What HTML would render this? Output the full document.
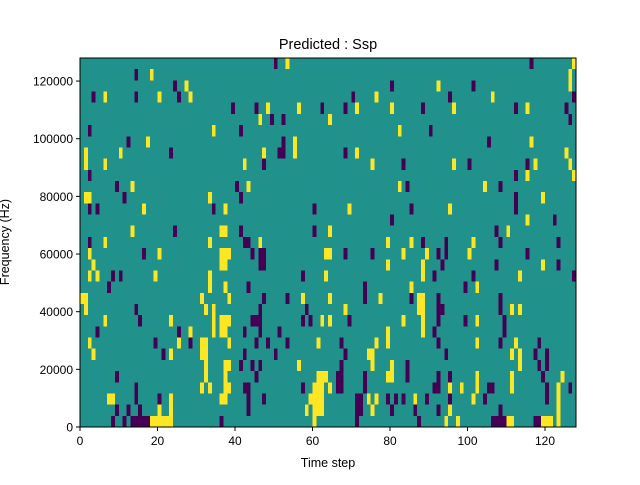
<!DOCTYPE html>
<html><head><meta charset="utf-8"><style>
body{margin:0;background:#fff;}
svg text{font-family:"Liberation Sans",sans-serif;fill:#000;}
</style></head><body>
<svg id="chart" width="640" height="480" xmlns="http://www.w3.org/2000/svg">
<rect x="0" y="0" width="640" height="480" fill="#fff"/>
<text x="328" y="49" font-size="14.5" text-anchor="middle">Predicted : Ssp</text>
<text x="328" y="467" font-size="12.5" text-anchor="middle">Time step</text>
<text transform="translate(9,242) rotate(-90)" font-size="12.5" text-anchor="middle">Frequency (Hz)</text>
<g id="plot"></g>
<g id="axes"></g>
</svg>
<script>
const nCols = 128;
const nRows = 33;
const freqMax = 128000;
const xTicks = [0,20,40,60,80,100,120];
const yTicks = [0,20000,40000,60000,80000,100000,120000];
const yTickLabels = ["0","20000","40000","60000","80000","100000","120000"];
// runs: [rowFromTop, colStart, colEnd, value]  value: -1 purple, 1 yellow
const purpleRuns = [
[0,50,50],[0,116,116],[1,14,14],[2,24,24],[2,80,80],[2,101,101],[3,3,3],[3,14,14],[3,25,25],[3,70,70],[3,95,95],[3,127,127],
[4,39,39],[4,45,45],[4,62,62],[4,62,62],[4,68,68],[4,88,88],[4,112,112],[4,125,125],[5,49,49],[5,52,52],[5,126,126],
[6,2,2],[6,41,41],[6,90,90],[7,12,12],[7,52,52],[7,105,105],[8,23,23],[8,51,52],[8,68,68],[9,47,47],[9,83,83],[9,100,100],[9,115,115],
[10,2,2],[10,112,112],[11,9,9],[11,40,40],[11,84,84],[11,108,108],[12,11,11],[12,41,41],[12,112,112],[13,2,2],[13,4,4],[13,34,34],[13,60,60],[13,85,85],[13,112,112],
[14,80,80],[14,122,122],[15,24,24],[15,41,41],[15,60,60],[15,107,107],[16,2,2],[16,42,43],[16,88,88],[16,94,94],[16,108,108],[16,123,123],
[17,16,16],[17,44,44],[17,46,47],[17,68,68],[17,75,75],[17,92,92],[17,94,94],[17,115,115],[18,46,47],[18,93,93],[18,107,107],[18,123,123],
[19,8,8],[19,10,10],[19,57,57],[19,91,91],[19,101,101],[19,127,127],[20,7,7],[20,43,43],[20,73,73],[20,99,99],
[21,47,47],[21,53,53],[21,73,73],[21,85,85],[21,92,92],[21,108,108],[22,14,14],[22,46,46],[22,58,58],[22,92,93],[22,108,108],
[23,15,15],[23,44,46],[23,57,57],[23,59,59],[23,69,69],[23,92,92],[23,99,99],[23,109,109],[24,4,4],[24,25,25],[24,42,42],[24,46,46],[24,51,51],[24,91,91],[24,109,109],
[25,19,19],[25,28,28],[25,45,45],[25,48,48],[25,53,53],[25,67,67],[25,92,92],[25,108,108],[25,118,118],[26,21,21],[26,42,42],[26,50,50],[26,68,68],[26,94,94],[26,117,117],[26,120,120],
[27,41,41],[27,44,44],[27,46,46],[27,67,67],[27,84,84],[27,118,118],[27,120,120],[28,9,9],[28,45,45],[28,66,67],[28,73,73],[28,84,84],[28,92,92],[28,95,95],[28,119,119],
[29,14,14],[29,42,43],[29,57,57],[29,66,67],[29,73,73],[29,91,92],[29,105,106],[29,120,120],[29,126,126],
[30,14,14],[30,20,20],[30,43,43],[30,47,47],[30,71,72],[30,79,79],[30,81,81],[30,83,83],[30,89,89],[30,95,95],[30,104,104],[30,120,120],
[31,9,9],[31,12,12],[31,15,15],[31,43,43],[31,71,72],[31,80,80],[31,86,86],[31,92,92],[31,108,108],
[32,8,8],[32,11,11],[32,13,17],[32,36,36],[32,71,71],[32,87,87],[32,106,109],[32,117,118]
];
const yellowRuns = [
[0,53,53],[0,127,127],[1,18,18],[1,126,126],[2,27,27],[2,92,92],[2,126,126],[3,6,6],[3,20,20],[3,28,28],[3,76,76],[3,106,106],
[4,48,48],[4,56,56],[4,71,71],[4,80,80],[4,96,96],[4,115,115],[5,46,46],[5,64,64],[6,34,34],[6,82,82],[7,17,17],[7,55,55],[7,116,116],
[8,1,1],[8,10,10],[8,47,47],[8,55,55],[8,71,71],[8,125,125],[9,1,1],[9,6,6],[9,42,42],[9,75,75],[9,96,96],[9,117,117],[9,126,126],
[10,115,115],[10,127,127],[11,13,13],[11,43,43],[11,82,82],[11,104,104],[12,1,2],[12,33,33],[12,119,119],[13,16,16],[13,37,37],[13,69,69],[13,95,95],
[14,115,115],[15,13,13],[15,36,37],[15,64,64],[15,110,110],[16,6,6],[16,33,33],[16,46,46],[16,79,79],[16,85,85],[16,101,101],
[17,2,2],[17,20,20],[17,36,38],[17,63,64],[17,83,83],[17,89,89],[17,100,100],[18,3,3],[18,36,37],[18,79,79],[18,88,88],[18,119,119],
[19,2,2],[19,4,4],[19,19,19],[19,33,33],[19,63,63],[19,88,88],[19,113,113],[20,33,33],[20,37,37],[20,85,85],[20,102,102],
[21,0,1],[21,31,31],[21,38,38],[21,57,57],[21,64,64],[21,77,77],[21,87,88],[22,1,1],[22,32,32],[22,34,34],[22,68,68],[22,87,88],[22,111,111],[22,113,113],
[23,6,6],[23,23,23],[23,34,34],[23,36,38],[23,62,62],[23,64,64],[23,83,83],[23,88,88],[23,102,102],[24,28,28],[24,34,34],[24,36,37],[24,79,79],[24,88,88],
[25,2,2],[25,25,25],[25,31,32],[25,38,38],[25,61,61],[25,76,76],[25,79,79],[25,102,102],[25,112,112],[26,3,3],[26,23,23],[26,31,32],[26,74,75],[26,111,111],[26,113,113],
[27,32,32],[27,37,38],[27,56,56],[27,75,75],[27,80,80],[27,113,113],[28,32,32],[28,37,37],[28,61,63],[28,79,80],[28,102,102],[28,111,111],[28,124,124],
[29,31,31],[29,33,33],[29,37,38],[29,60,62],[29,64,64],[29,95,95],[29,98,98],[29,102,102],[29,111,111],[29,123,123],
[30,7,8],[30,23,23],[30,36,37],[30,59,62],[30,74,74],[30,76,76],[30,86,86],[30,101,101],[30,123,123],
[31,20,20],[31,23,23],[31,58,58],[31,60,62],[31,75,75],[31,95,95],[31,123,123],
[32,18,23],[32,60,60],[32,94,94],[32,97,97],[32,110,111],[32,119,121],[32,123,123]
];
const X0=80, X1=576, Y0=427, Y1=58;
function xs(v){return X0+(v/nCols)*(X1-X0);}
function ys(f){return Y0-(f/freqMax)*(Y0-Y1);}
const NS="http://www.w3.org/2000/svg";
const plot=document.getElementById('plot');
const axes=document.getElementById('axes');
function mk(tag,attrs,parent){const e=document.createElementNS(NS,tag);for(const k in attrs)e.setAttribute(k,attrs[k]);parent.appendChild(e);return e;}
const bg=mk('rect',{x:X0,y:Y1,width:X1-X0,height:Y0-Y1,fill:'#21918c'},plot);


const binH=freqMax/nRows;
function drawRuns(runs,color,name){
  runs.forEach(r=>{
    const bin=nRows-1-r[0];
    const x=xs(r[1]), x2=xs(r[2]+1);
    const yt=ys((bin+1)*binH), yb=ys(bin*binH);
    const e=mk('rect',{x:x,y:yt,width:x2-x,height:yb-yt,fill:color,'shape-rendering':'crispEdges'},plot);
    
    
  });
}
drawRuns(purpleRuns,'#440154','heatmap-cell-low');
drawRuns(yellowRuns,'#fde725','heatmap-cell-high');
const frame=mk('rect',{x:X0,y:Y1,width:X1-X0,height:Y0-Y1,fill:'none',stroke:'#000','stroke-width':1},axes);


xTicks.forEach(v=>{
  const x=xs(v);
  const t=mk('line',{x1:x,x2:x,y1:Y0,y2:Y0+4,stroke:'#000'},axes);
  
  
  const l=mk('text',{x:x,y:Y0+18,'font-size':12,'text-anchor':'middle'},axes);
  l.textContent=String(v);
  
  
});
yTicks.forEach((v,i)=>{
  const y=ys(v);
  const t=mk('line',{x1:X0-4,x2:X0,y1:y,y2:y,stroke:'#000'},axes);
  
  
  const l=mk('text',{x:X0-7,y:y+4.5,'font-size':12,'text-anchor':'end'},axes);
  l.textContent=yTickLabels[i];
  
  
});
</script>
</body></html>
